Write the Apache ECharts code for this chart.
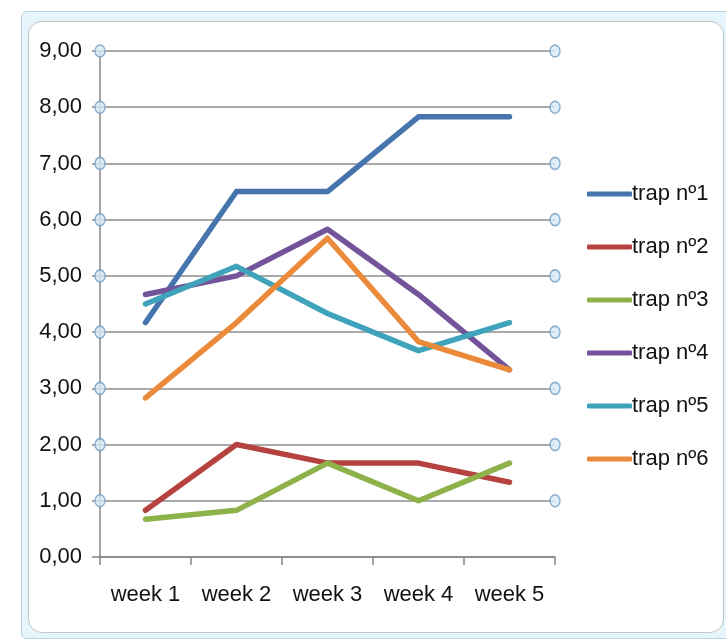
<!DOCTYPE html>
<html>
<head>
<meta charset="utf-8">
<script src="https://cdn.jsdelivr.net/npm/echarts@6/dist/echarts.min.js"></script>
<style>
  html, body { margin: 0; padding: 0; background: #ffffff; }
  #wrap { position: relative; width: 726px; height: 642px; overflow: hidden; }
  #outer { position: absolute; left: 21px; top: 11px; width: 720px; height: 626px; background: #e6f5fc; border: 1px solid #b9d3e3; border-radius: 6px; }
  #inner { position: absolute; left: 28px; top: 21px; width: 694px; height: 610px; background: #ffffff; border: 1px solid #c4c4c4; border-radius: 14px; }
  #chart { position: absolute; left: 0; top: 0; width: 726px; height: 642px; }
</style>
</head>
<body>
<div id="wrap">
  <div id="outer"></div>
  <div id="inner"></div>
  <div id="chart"></div>
</div>
<script>
const categories = ['week 1', 'week 2', 'week 3', 'week 4', 'week 5'];
const trap1 = [4.17, 6.50, 6.50, 7.83, 7.83];
const trap2 = [0.83, 2.00, 1.67, 1.67, 1.33];
const trap3 = [0.67, 0.83, 1.67, 1.00, 1.67];
const trap4 = [4.67, 5.00, 5.83, 4.67, 3.33];
const trap5 = [4.50, 5.17, 4.33, 3.67, 4.17];
const trap6 = [2.83, 4.17, 5.67, 3.83, 3.33];
const seriesNames = ['trap nº1', 'trap nº2', 'trap nº3', 'trap nº4', 'trap nº5', 'trap nº6'];
const yTicks = [0, 1, 2, 3, 4, 5, 6, 7, 8, 9];

const colors = ['#4675ad', '#b5423f', '#8db24a', '#73549a', '#3fa3bb', '#ea8a3a'];
const allData = [trap1, trap2, trap3, trap4, trap5, trap6];
const font = '"Liberation Sans", Arial, sans-serif';

// selection-handle circles at the ends of gridlines (from tick values)
const handles = [];
yTicks.filter(v => v > 0).forEach(v => { handles.push([0, v]); handles.push([1, v]); });

const chart = echarts.init(document.getElementById('chart'));
chart.setOption({
  animation: false,
  color: colors,
  grid: { left: 100, top: 51, right: 171, bottom: 85 },
  legend: {
    data: seriesNames,
    orient: 'vertical',
    left: 587,
    top: 183,
    padding: 0,
    itemWidth: 45,
    itemHeight: 5,
    itemGap: 31,
    icon: 'roundRect',
    textStyle: { fontFamily: font, fontSize: 22, color: '#111', padding: [0, 0, 0, -5] }
  },
  xAxis: [{
    type: 'category',
    data: categories,
    boundaryGap: true,
    axisLine: { lineStyle: { color: '#868686', width: 1.5 } },
    axisTick: { show: true, length: 8, lineStyle: { color: '#868686', width: 1.5 } },
    axisLabel: { fontFamily: font, fontSize: 22, color: '#111', margin: 27 }
  }, {
    type: 'value', min: 0, max: 1, show: false
  }],
  yAxis: {
    type: 'value',
    min: 0, max: 9, interval: 1,
    axisLine: { show: true, lineStyle: { color: '#868686', width: 1.5 } },
    axisTick: { show: true, length: 8, lineStyle: { color: '#868686', width: 1.5 } },
    splitLine: { lineStyle: { color: '#8c8c8c', width: 1.5 } },
    axisLabel: {
      fontFamily: font, fontSize: 22, color: '#111', margin: 18,
      formatter: v => v.toFixed(2).replace('.', ',')
    }
  },
  series: seriesNames.map((name, i) => ({
    name: name,
    type: 'line',
    data: allData[i],
    symbol: 'none',
    lineStyle: { width: 5.5, cap: 'round', join: 'round' },
    z: 3
  })).concat([{
    name: 'handles',
    type: 'scatter',
    xAxisIndex: 1,
    data: handles,
    symbol: 'circle',
    symbolSize: [10, 12],
    silent: true,
    itemStyle: { color: '#d8eaf6', borderColor: '#6f9cc6', borderWidth: 1.5 },
    z: 2
  }])
});
</script>
</body>
</html>
